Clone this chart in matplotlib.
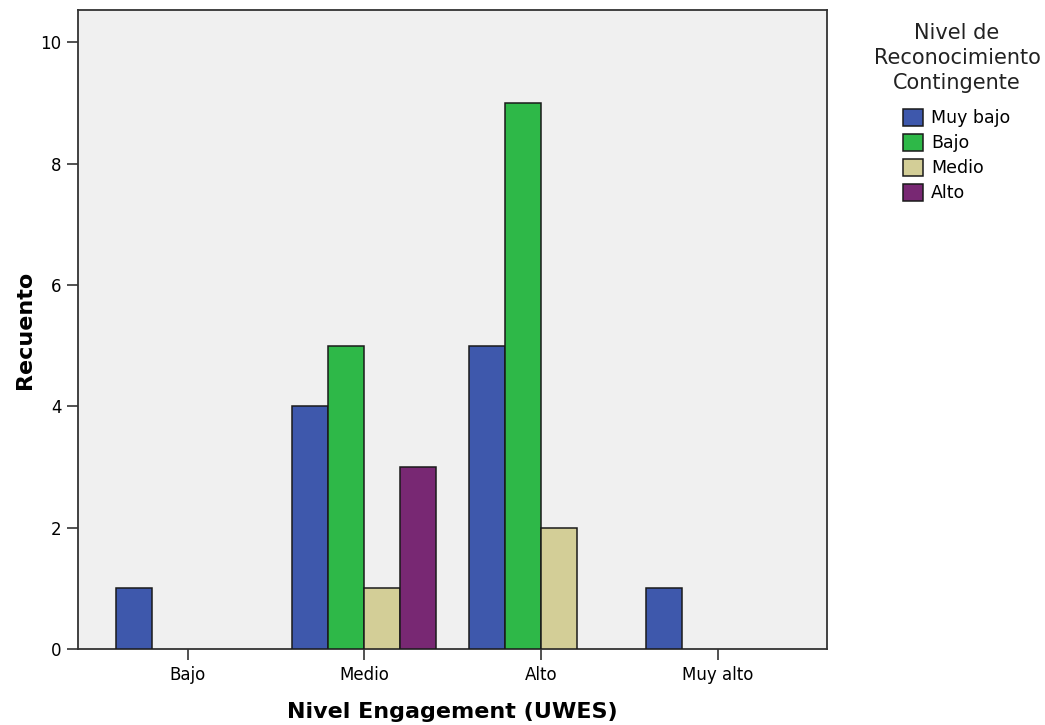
import matplotlib
matplotlib.use("Agg")
import matplotlib.pyplot as plt
import numpy as np

plt.rcParams['font.family'] = ['DejaVu Sans']

categories = ["Bajo", "Medio", "Alto", "Muy alto"]
series_names = ["Muy bajo", "Bajo", "Medio", "Alto"]
muy_bajo = [1, 4, 5, 1]
bajo = [0, 5, 9, 0]
medio = [0, 1, 2, 0]
alto = [0, 3, 0, 0]
yticks = [0, 2, 4, 6, 8, 10]
legend_title = "Nivel de\nReconocimiento\nContingente"

series = [muy_bajo, bajo, medio, alto]
colors = ["#3E58AC", "#2EB848", "#D3CE97", "#782873"]

fig = plt.figure(figsize=(10.45, 7.25), dpi=100)
ax = fig.add_axes([0.0749, 0.1048, 0.7162, 0.8814])
ax.set_facecolor("#F0F0F0")

x = np.arange(len(categories))
w = 0.204
offsets = (np.arange(len(series)) - 1.5) * w
handles = []
for s, (vals, name, col) in enumerate(zip(series, series_names, colors)):
    vals = np.array(vals, dtype=float)
    mask = vals > 0
    ax.bar(x[mask] + offsets[s], vals[mask], width=w, color=col,
           edgecolor="#1a1a1a", linewidth=1.1, zorder=3)
    handles.append(plt.Rectangle((0, 0), 1, 1, facecolor=col,
                                 edgecolor="#1a1a1a", linewidth=1.1))

ax.set_xlim(-0.619, 3.616)
ax.set_ylim(0, 10.53)
ax.set_xticks(x)
ax.set_xticklabels(categories, fontsize=12)
ax.set_yticks(yticks)
ax.set_yticklabels([str(t) for t in yticks], fontsize=12)
ax.tick_params(axis='both', length=8, width=1.2, color="#333333", pad=4)
for sp in ax.spines.values():
    sp.set_color("#333333")
    sp.set_linewidth(1.3)

ax.set_xlabel("Nivel Engagement (UWES)", fontsize=16, fontweight='bold', labelpad=13)
ax.set_ylabel("Recuento", fontsize=16, fontweight='bold', labelpad=4)

fig.text(957 / 1045, 1 - 23 / 725, legend_title, ha='center', va='top',
         multialignment='center', fontsize=15, linespacing=1.32, color="#222222")

leg = ax.legend(handles, series_names,
                loc='upper center', bbox_to_anchor=(957 / 1045, 1 - 100 / 725),
                bbox_transform=fig.transFigure, frameon=False, fontsize=12.5,
                handlelength=1.15, handleheight=1.2,
                handletextpad=0.45, labelspacing=0.36, borderpad=0)

fig.savefig("out.png", dpi=100)
